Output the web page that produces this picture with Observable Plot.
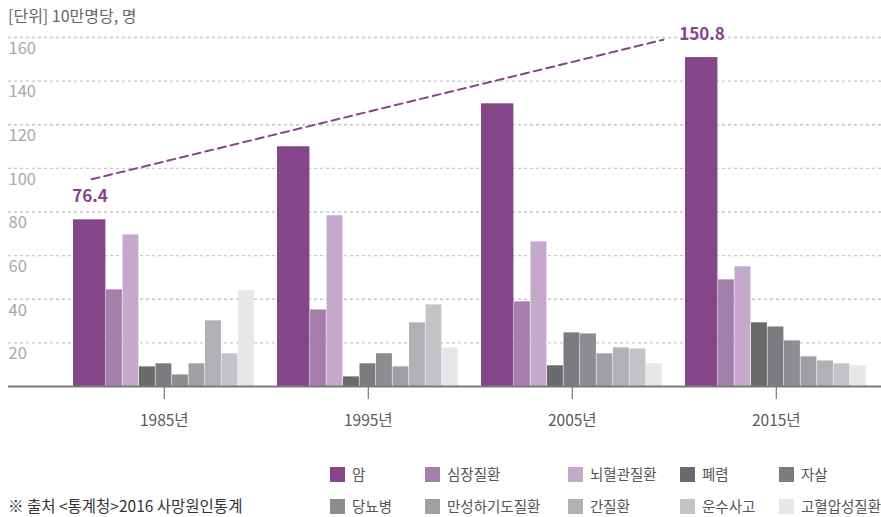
<!DOCTYPE html>
<html>
<head>
<meta charset="utf-8">
<script src="https://cdn.jsdelivr.net/npm/d3@7"></script>
<script src="https://cdn.jsdelivr.net/npm/@observablehq/plot@0.6"></script>
<style>
  html, body { margin: 0; padding: 0; background: #fff; }
  #wrap { position: relative; width: 881px; height: 517px; overflow: hidden;
    font-family: "Noto Sans CJK KR", "Noto Sans", sans-serif; }
  #title { position: absolute; left: 8px; top: 5px; font-size: 16px; color: #666; line-height: 20px; white-space: nowrap; }
  #chart { position: absolute; left: 0; top: 0; }
  #source { position: absolute; left: 8px; top: 494px; font-size: 15.5px; color: #333; line-height: 22px; white-space: nowrap; }
  .lg { position: absolute; display: flex; align-items: center; font-size: 14.5px; color: #555; white-space: nowrap; line-height: 18px; }
  .lg span.sw { display: inline-block; width: 15px; height: 15px; margin-right: 7px; }
</style>
</head>
<body>
<div id="wrap">
  <div id="chart"></div>
  <div id="title">[단위] 10만명당, 명</div>
  <div id="source">※ 출처 &lt;통계청&gt;2016 사망원인통계</div>
</div>
<script>
// ---- data ----
const years = ["1985", "1995", "2005", "2015"];
const causes = ["암", "심장질환", "뇌혈관질환", "폐렴", "자살", "당뇨병", "만성하기도질환", "간질환", "운수사고", "고혈압성질환"];
const colors = ["#844589", "#a57fac", "#c4a9cb", "#6a6a6c", "#7b7c7f", "#8c8d90", "#9fa0a3", "#b0b1b4", "#c3c4c7", "#e7e7e9"];
const cancer       = [76.4, 109.9, 129.6, 150.8];
const heart        = [44.3, 35.1, 38.8, 48.9];
const cerebro      = [69.5, 78.3, 66.3, 54.9];
const pneumonia    = [9.0, 4.4, 9.5, 29.2];
const suicide      = [10.4, 10.4, 24.6, 27.3];
const diabetes     = [5.3, 15.0, 24.1, 20.9];
const chronic      = [10.4, 9.0, 15.0, 13.6];
const liver        = [30.1, 29.2, 17.7, 11.7];
const transport    = [15.0, 37.4, 17.2, 10.4];
const hypertension = [43.9, 17.7, 10.4, 9.5];
const yTicks = [20, 40, 60, 80, 100, 120, 140, 160];
const trendValues = [95, 159];   // dashed trend arrow, start (1985) and end (2015)

const series = [cancer, heart, cerebro, pneumonia, suicide, diabetes, chronic, liver, transport, hypertension];

// ---- layout helpers (slot units) ----
const slotW = [2, 1, 1, 1, 1, 1, 1, 1, 1, 1];
const slotStart = slotW.map((w, i) => d3.sum(slotW.slice(0, i)));
const groupWidth = d3.sum(slotW);          // 11
const stride = 204 / 16.5;                  // group spacing in slot units
const W = 881, ML = 8, MR = 0;
const d0 = -(73 - ML) / 16.5;
const d1 = d0 + (W - ML - MR) / 16.5;

const bars = [];
years.forEach((yr, g) => {
  causes.forEach((c, i) => {
    bars.push({
      year: yr, cause: c, value: series[i][g],
      x1: g * stride + slotStart[i],
      x2: g * stride + slotStart[i] + slotW[i]
    });
  });
});
const centers = years.map((y, g) => g * stride + groupWidth / 2);
const labelData = [
  {x: 0 * stride + 1, value: cancer[0], text: cancer[0].toFixed(1)},
  {x: 3 * stride + 1, value: cancer[3], text: cancer[3].toFixed(1)}
];
const trend = [
  {x: 0 * stride + 1.1, y: trendValues[0]},
  {x: 3 * stride - 1.33, y: trendValues[1]}
];

const chart = Plot.plot({
  width: W,
  height: 440,
  marginLeft: ML,
  marginRight: MR,
  marginTop: 37,
  marginBottom: 54,
  style: {fontFamily: "'Noto Sans CJK KR', 'Noto Sans', sans-serif", fontSize: "15.5px", color: "#5a5a5a", background: "transparent"},
  x: {
    domain: [d0, d1],
    ticks: centers,
    tickFormat: d => {
      const i = centers.findIndex(c => Math.abs(c - d) < 1e-6);
      return i >= 0 ? years[i] + "년" : "";
    },
    tickSize: 13,
    tickPadding: 15,
    label: null
  },
  y: {domain: [0, 160], axis: null},
  color: {domain: causes, range: colors},
  marks: [
    Plot.ruleY(yTicks, {stroke: "#c8c8c8", strokeWidth: 1.3, strokeDasharray: "3,3"}),
    Plot.text(yTicks, {y: d => d, text: d => String(d), frameAnchor: "left", textAnchor: "start", dy: 11, fill: "#a8a8a8", fontSize: 16.5}),
    Plot.rectY(bars, {x1: "x1", x2: "x2", y: "value", fill: "cause", insetRight: 0.6}),
    Plot.ruleY([0], {stroke: "#7a7a7a", strokeWidth: 2}),
    Plot.line(trend, {x: "x", y: "y", stroke: "#844589", strokeWidth: 2, strokeDasharray: "8,5"}),
    Plot.text(labelData, {x: "x", y: "value", text: "text", dy: -23, fill: "#844589", fontWeight: "bold", fontSize: 17})
  ]
});
document.getElementById("chart").appendChild(chart);

// ---- legend ----
const wrap = document.getElementById("wrap");
const colX = [330, 425, 568, 680, 779];
const rowY = [465, 497];
causes.forEach((c, i) => {
  const row = Math.floor(i / 5), col = i % 5;
  const el = document.createElement("div");
  el.className = "lg";
  el.style.left = colX[col] + "px";
  el.style.top = rowY[row] + "px";
  el.innerHTML = `<span class="sw" style="background:${colors[i]}"></span>${c}`;
  wrap.appendChild(el);
});
</script>
</body>
</html>
